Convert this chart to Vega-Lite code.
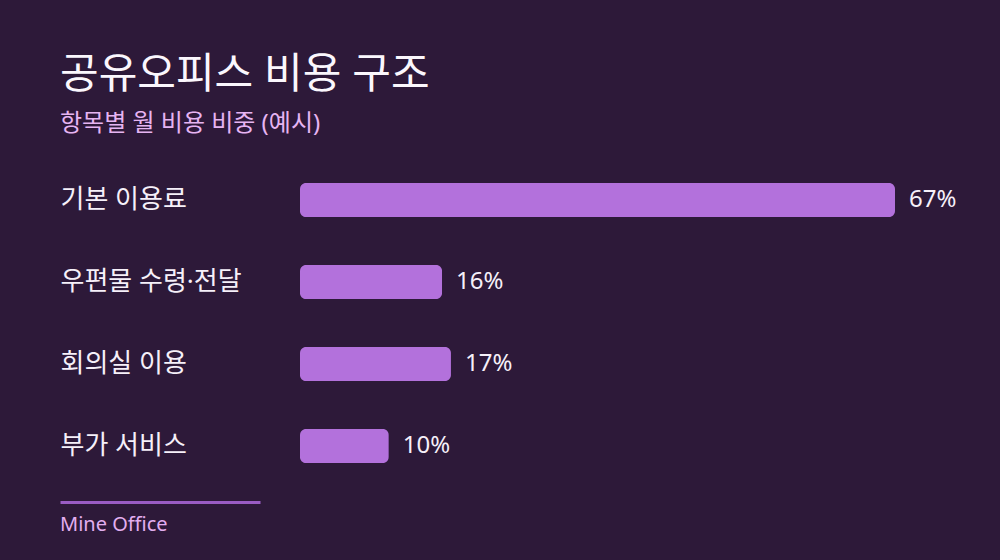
{
  "$schema": "https://vega.github.io/schema/vega-lite/v6.json",
  "description": "공유오피스 비용 구조 - 항목별 월 비용 비중",
  "background": "#2d1939",
  "padding": {"left": 60, "top": 54, "right": 45, "bottom": 44},
  "title": {
    "text": "공유오피스 비용 구조",
    "subtitle": "항목별 월 비용 비중 (예시)",
    "anchor": "start",
    "fontSize": 42,
    "fontWeight": "normal",
    "color": "#fbf7fd",
    "subtitleFontSize": 24,
    "subtitleColor": "#e6b4f2",
    "subtitlePadding": 15,
    "offset": 22
  },
  "datasets": {
    "costs": [
      {"item": "기본 이용료", "share": 0.67},
      {"item": "우편물 수령·전달", "share": 0.16},
      {"item": "회의실 이용", "share": 0.17},
      {"item": "부가 서비스", "share": 0.10}
    ]
  },
  "spacing": 12,
  "vconcat": [
    {
      "width": 835,
      "height": 328,
      "data": {"name": "costs"},
      "encoding": {
        "y": {
          "field": "item",
          "type": "nominal",
          "sort": null,
          "scale": {"paddingInner": 0, "paddingOuter": 0},
          "axis": {
            "title": null,
            "domain": false,
            "ticks": false,
            "tickSize": 0,
            "grid": false,
            "labelAlign": "left",
            "labelBaseline": "middle",
            "labelPadding": 0,
            "labelFontSize": 26,
            "labelColor": "#f6f0f9",
            "labelLimit": 240
          }
        },
        "x": {
          "field": "share",
          "type": "quantitative",
          "scale": {"domain": [-0.27025, 0.67], "nice": false, "zero": false},
          "axis": null
        }
      },
      "layer": [
        {"mark": {"type": "bar", "size": 34, "cornerRadius": 6, "color": "#b371dc"}},
        {
          "mark": {"type": "text", "align": "left", "baseline": "middle", "dx": 14, "fontSize": 24, "color": "#f6f0f9"},
          "encoding": {"text": {"field": "share", "type": "quantitative", "format": ".0%"}}
        }
      ]
    },
    {
      "width": 200,
      "height": 1,
      "data": {"values": [{"v": 0}]},
      "mark": {"type": "point", "opacity": 0},
      "encoding": {
        "x": {
          "field": "v",
          "type": "quantitative",
          "axis": {
            "orient": "top",
            "domain": true,
            "domainColor": "#9a5cc4",
            "domainWidth": 3,
            "ticks": false,
            "labels": false,
            "grid": false,
            "title": null
          }
        }
      },
      "title": {
        "text": "Mine Office",
        "orient": "bottom",
        "anchor": "start",
        "fontSize": 20,
        "fontWeight": "normal",
        "color": "#e3aef0",
        "offset": 10
      }
    }
  ],
  "config": {
    "font": "'Noto Sans', 'Noto Sans CJK KR', sans-serif",
    "view": {"stroke": null}
  }
}
